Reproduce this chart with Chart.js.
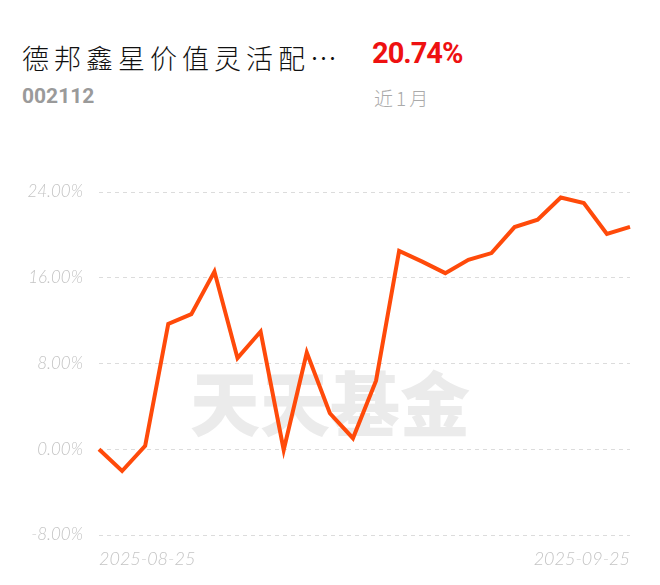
<!DOCTYPE html>
<html>
<head>
<meta charset="utf-8">
<script src="https://cdn.jsdelivr.net/npm/chart.js@4"></script>
<style>
  body { margin: 0; background: #fff; width: 660px; height: 585px; position: relative; overflow: hidden; }
  .name { position: absolute; left: 22px; top: 38px; font: 300 27px "Noto Sans CJK SC"; color: #111; letter-spacing: 5px; }
  .code { position: absolute; left: 22px; top: 84px; font: bold 21px Roboto; color: #9a9a9a; }
  .rate { position: absolute; left: 372px; top: 36px; font: bold 29px Roboto; color: #ee1111; letter-spacing: -1px; }
  .period { position: absolute; left: 374px; top: 84px; font: 300 19px "Noto Sans CJK SC"; color: #aaa; letter-spacing: 3px; }
  .mark { position: absolute; left: 190px; top: 350px; font: 900 70px "Noto Sans CJK SC"; color: #ebebeb; }
  #wrap { position: absolute; left: 0; top: 0; width: 660px; height: 585px; }
</style>
</head>
<body>
<div class="name">德邦鑫星价值灵活配…</div>
<div class="code">002112</div>
<div class="rate">20.74%</div>
<div class="period">近1月</div>
<div class="mark">天天基金</div>
<div id="wrap"><canvas id="myChart" width="660" height="585"></canvas></div>
<script>
const dates = ["2025-08-25", "2025-08-26", "2025-08-27", "2025-08-28", "2025-08-29",
  "2025-09-01", "2025-09-02", "2025-09-03", "2025-09-04", "2025-09-05",
  "2025-09-08", "2025-09-09", "2025-09-10", "2025-09-11", "2025-09-12",
  "2025-09-15", "2025-09-16", "2025-09-17", "2025-09-18", "2025-09-19",
  "2025-09-22", "2025-09-23", "2025-09-24", "2025-09-25"];
const returns = [0.00, -2.03, 0.31, 11.70, 12.60, 16.58, 8.50, 10.98, -0.07, 9.02,
  3.36, 1.03, 6.40, 18.50, 17.50, 16.43, 17.67, 18.30, 20.73, 21.41,
  23.49, 22.97, 20.08, 20.74];
const yTicks = [-8, 0, 8, 16, 24];

const ctx = document.getElementById("myChart");
const returnChart = new Chart(ctx, {
  type: "line",
  data: {
    labels: dates,
    datasets: [
      {
        label: "近1月",
        data: returns,
        borderColor: "rgb(255, 74, 10)",
        borderWidth: 4,
        pointRadius: 0,
        tension: 0,
        fill: false,
      },
    ],
  },
  options: {
    responsive: false,
    animation: false,
    devicePixelRatio: 1,
    layout: { padding: { top: 192, right: 30, bottom: 0, left: 0 } },
    plugins: { legend: { display: false }, tooltip: { enabled: false } },
    scales: {
      x: {
        offset: false,
        border: { display: false },
        grid: { display: false },
        afterFit: (axis) => { axis.height = 50; },
        ticks: {
          autoSkip: false,
          maxRotation: 0,
          align: "inner",
          padding: 5,
          color: "#c4c4c4",
          font: { family: "Lato", style: "italic", weight: 300, size: 18 },
          callback: (v, i) => (i === 0 || i === dates.length - 1 ? dates[i] : ""),
        },
      },
      y: {
        min: yTicks[0],
        max: yTicks[yTicks.length - 1],
        border: { display: false, dash: [4, 4] },
        afterFit: (axis) => { axis.width = 99; },
        afterBuildTicks: (axis) => { axis.ticks = yTicks.map((v) => ({ value: v })); },
        grid: { color: "#dcdcdc", lineWidth: 1, drawTicks: false },
        ticks: {
          padding: 16,
          color: "#c4c4c4",
          font: { family: "Lato", style: "italic", weight: 300, size: 17 },
          callback: (v) => v.toFixed(2) + "%",
        },
      },
    },
  },
});
</script>
</body>
</html>
